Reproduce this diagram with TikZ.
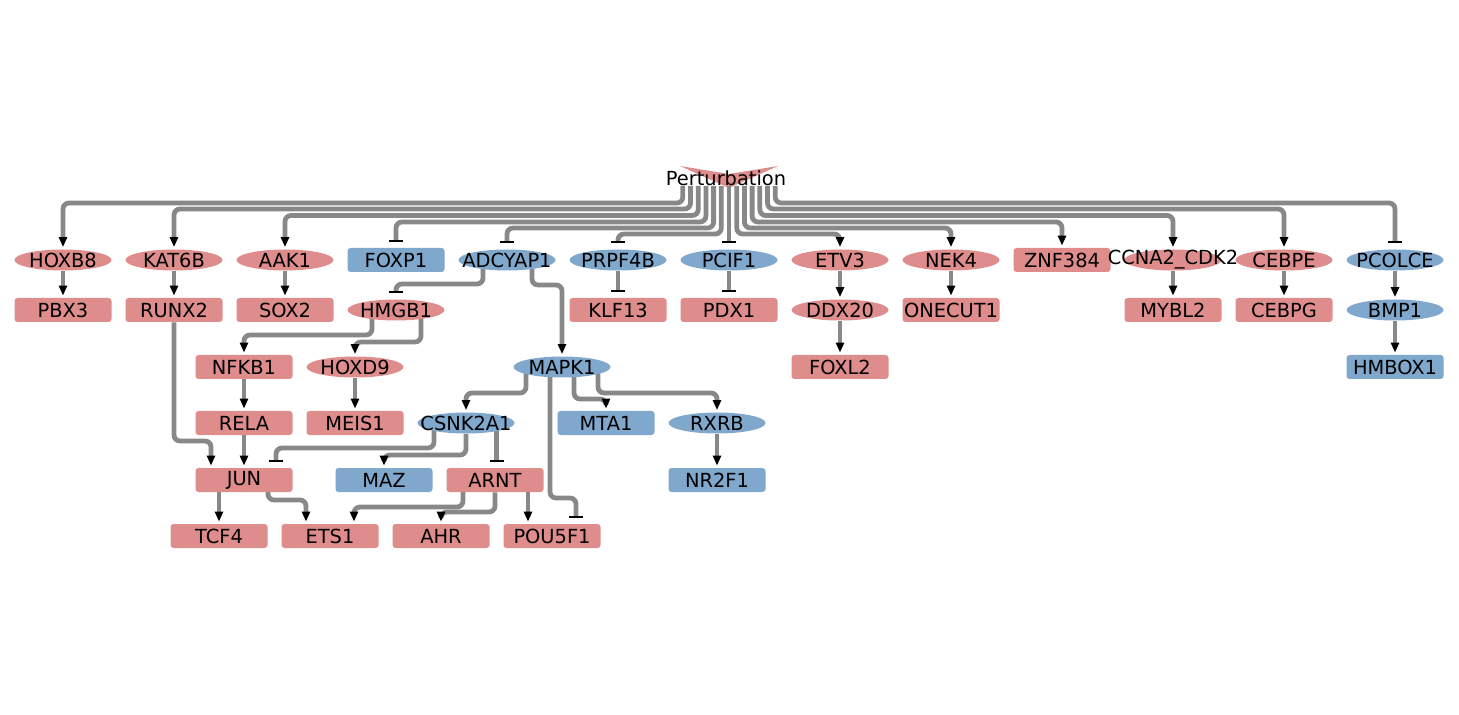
\documentclass[tikz,border=0pt]{standalone}
\usepackage{fontspec}
\setmainfont{DejaVu Sans}
\usetikzlibrary{calc,shapes.geometric,arrows.meta}
\pgfdeclarelayer{background}
\pgfsetlayers{background,main}

\definecolor{upred}{RGB}{222,140,140}
\definecolor{downblue}{RGB}{128,168,204}
\definecolor{linkgray}{RGB}{136,136,136}

\tikzset{
  geneoval/.style={ellipse, minimum width=48.5pt, minimum height=10.5pt, inner sep=0pt},
  genebox/.style={rectangle, rounded corners=1.5pt, minimum width=48.5pt, minimum height=12pt, inner sep=0pt},
  upreg/.style={fill=upred},
  downreg/.style={fill=downblue},
  lbl/.style={label={[font=\fontsize{9.7pt}{11pt}\selectfont, inner sep=0pt]center:#1}},
  link/.style={draw=linkgray, line width=2.4pt, rounded corners=3pt},
  act/.style={link, -{Triangle[width=4pt,length=5pt,black]}, shorten >=1pt},
  inh/.style={link, -{Bar[width=7pt,line width=0.8pt,black]}, shorten >=3pt}
}

\begin{document}
\begin{tikzpicture}[x=0.5pt,y=-0.5pt]
        \useasboundingbox (0,0) rectangle (1459,715);
        \coordinate (pert) at (729,178);
        \node[font=\fontsize{9.7pt}{11pt}\selectfont, inner sep=0pt] (pertlabel) at (726,178) {Perturbation};
        % first row
        \node[geneoval, upreg, lbl=HOXB8] (hoxb8) at (63,260) {};
        \node[geneoval, upreg, lbl=KAT6B] (kat6b) at (174,260) {};
        \node[geneoval, upreg, lbl=AAK1] (aak1) at (285,260) {};
        \node[genebox, downreg, lbl=FOXP1] (foxp1) at (396,260) {};
        \node[geneoval, downreg, lbl=ADCYAP1] (adcyap1) at (507,260) {};
        \node[geneoval, downreg, lbl=PRPF4B] (prpf4b) at (618,260) {};
        \node[geneoval, downreg, lbl=PCIF1] (pcif1) at (729,260) {};
        \node[geneoval, upreg, lbl=ETV3] (etv3) at (840,260) {};
        \node[geneoval, upreg, lbl=NEK4] (nek4) at (951,260) {};
        \node[genebox, upreg, lbl=ZNF384] (znf384) at (1062,260) {};
        \node[geneoval, upreg, lbl=CCNA2\_CDK2] (ccna2) at (1173,260) {};
        \node[geneoval, upreg, lbl=CEBPE] (cebpe) at (1284,260) {};
        \node[geneoval, downreg, lbl=PCOLCE] (pcolce) at (1395,260) {};
        % second row
        \node[genebox, upreg, lbl=PBX3] (pbx3) at (63,310) {};
        \node[genebox, upreg, lbl=RUNX2] (runx2) at (174,310) {};
        \node[genebox, upreg, lbl=SOX2] (sox2) at (285,310) {};
        \node[geneoval, upreg, lbl=HMGB1] (hmgb1) at (396,310) {};
        \node[genebox, upreg, lbl=KLF13] (klf13) at (618,310) {};
        \node[genebox, upreg, lbl=PDX1] (pdx1) at (729,310) {};
        \node[geneoval, upreg, lbl=DDX20] (ddx20) at (840,310) {};
        \node[genebox, upreg, lbl=ONECUT1] (onecut1) at (951,310) {};
        \node[genebox, upreg, lbl=MYBL2] (mybl2) at (1173,310) {};
        \node[genebox, upreg, lbl=CEBPG] (cebpg) at (1284,310) {};
        \node[geneoval, downreg, lbl=BMP1] (bmp1) at (1395,310) {};
        % third row
        \node[genebox, upreg, lbl=NFKB1] (nfkb1) at (244,367) {};
        \node[geneoval, upreg, lbl=HOXD9] (hoxd9) at (355,367) {};
        \node[geneoval, downreg, lbl=MAPK1] (mapk1) at (562,367) {};
        \node[genebox, upreg, lbl=FOXL2] (foxl2) at (840,367) {};
        \node[genebox, downreg, lbl=HMBOX1] (hmbox1) at (1395,367) {};
        % fourth row
        \node[genebox, upreg, lbl=RELA] (rela) at (244,423) {};
        \node[genebox, upreg, lbl=MEIS1] (meis1) at (355,423) {};
        \node[geneoval, downreg, lbl=CSNK2A1] (csnk2a1) at (466,423) {};
        \node[genebox, downreg, lbl=MTA1] (mta1) at (606,423) {};
        \node[geneoval, downreg, lbl=RXRB] (rxrb) at (717,423) {};
        % fifth row
        \node[genebox, upreg, lbl=JUN] (jun) at (244,480) {};
        \node[genebox, downreg, lbl=MAZ] (maz) at (384,480) {};
        \node[genebox, upreg, lbl=ARNT] (arnt) at (495,480) {};
        \node[genebox, downreg, lbl=NR2F1] (nr2f1) at (717,480) {};
        % sixth row
        \node[genebox, upreg, lbl=TCF4] (tcf4) at (219,536) {};
        \node[genebox, upreg, lbl=ETS1] (ets1) at (330,536) {};
        \node[genebox, upreg, lbl=AHR] (ahr) at (441,536) {};
        \node[genebox, upreg, lbl=POU5F1] (pou5f1) at (552,536) {};

        \begin{pgfonlayer}{background}
        \fill[upred] ($(pert)+(-49,-12)$) -- ($(pert)+(0,-4)$) -- ($(pert)+(49,-12)$) -- ($(pert)+(0,10)$) -- cycle;
        % perturbation fan
        \foreach \dx/\lv/\tgt/\kind in {-46.2/203/hoxb8/act, -38.5/209/kat6b/act, -30.8/215.5/aak1/act,
            -23.1/222/foxp1/inh, -15.4/228/adcyap1/inh, -7.7/234/prpf4b/inh,
            7.7/234/etv3/act, 15.4/228/nek4/act, 23.1/222/znf384/act,
            30.8/215.5/ccna2/act, 38.5/209/cebpe/act, 46.2/203/pcolce/inh}
          \draw[\kind] ($(pert)+(\dx,8)$) -- ++(0,{\lv-186}) -| (\tgt.north);
        \draw[inh] ($(pert)+(0,8)$) -- (pcif1.north);
        % straight links
        \foreach \src/\tgt/\kind in {hoxb8/pbx3/act, kat6b/runx2/act, aak1/sox2/act, prpf4b/klf13/inh,
            pcif1/pdx1/inh, etv3/ddx20/act, ddx20/foxl2/act, nek4/onecut1/act, ccna2/mybl2/act,
            cebpe/cebpg/act, pcolce/bmp1/act, bmp1/hmbox1/act, nfkb1/rela/act, rela/jun/act,
            hoxd9/meis1/act, rxrb/nr2f1/act}
          \draw[\kind] (\src) -- (\tgt.north);
        % routed links
        \draw[inh] ($(adcyap1)+(-24,0)$) -- ++(0,24) -| (hmgb1.north);
        \draw[act] ($(adcyap1)+(25,0)$) -- ++(0,25) -| (mapk1.north);
        \draw[act] ($(hmgb1)+(-24,0)$) -- ++(0,25) -| (nfkb1.north);
        \draw[act] ($(hmgb1)+(25,0)$) -- ++(0,32) -| (hoxd9.north);
        \draw[act] (runx2) -- ++(0,131) -| ($(jun.north)+(-33,0)$);
        \draw[act] ($(mapk1)+(-36,0)$) -- ++(0,26) -| (csnk2a1.north);
        \draw[act] ($(mapk1)+(12,0)$) -- ++(0,32) -| (mta1.north);
        \draw[act] ($(mapk1)+(36,0)$) -- ++(0,26) -| (rxrb.north);
        \draw[inh] ($(mapk1)+(-12,0)$) -- ++(0,131) -| ($(pou5f1.north)+(24,0)$);
        \draw[inh] ($(csnk2a1)+(-32,0)$) -- ++(0,25) -| ($(jun.north)+(32,0)$);
        \draw[act] (csnk2a1) -- ++(0,32) -| (maz.north);
        \draw[inh] ($(csnk2a1)+(30.5,0)$) -- ($(arnt.north)+(1.5,0)$);
        \draw[act] ($(jun)+(-25,0)$) -- (tcf4.north);
        \draw[act] ($(jun)+(24,0)$) -- ++(0,20) -| ($(ets1.north)+(-24,0)$);
        \draw[act] ($(arnt)+(-32,0)$) -- ++(0,27) -| ($(ets1.north)+(24,0)$);
        \draw[act] (arnt) -- ++(0,32) -| (ahr.north);
        \draw[act] ($(arnt)+(33,0)$) -- ($(pou5f1.north)+(-24,0)$);
        \end{pgfonlayer}
    \end{tikzpicture}
\end{document}
